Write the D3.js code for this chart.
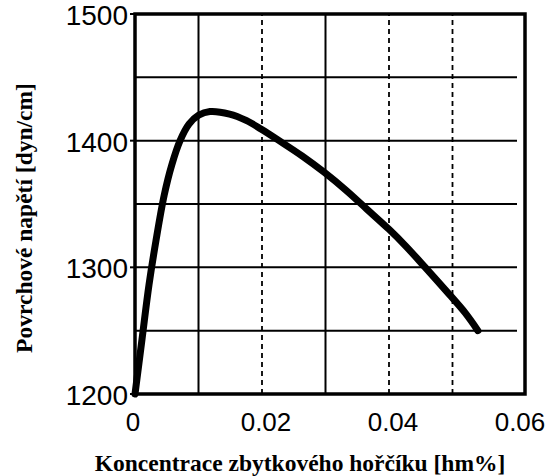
<!DOCTYPE html>
<html>
<head>
  <meta charset="utf-8">
  <title>Povrchové napětí vs. koncentrace hořčíku</title>
  <script src="https://d3js.org/d3.v7.min.js"></script>
  <style>
    body { margin: 0; background: #fff; }
    .tick-label { font-family: "Liberation Sans", Arial, sans-serif; fill: #000; }
    .title { font-family: "Liberation Serif", "Times New Roman", serif; font-weight: bold; fill: #000; }
  </style>
</head>
<body>
  <svg id="chart"></svg>
  <script>
    // data
    const conc = [0, 0.0011, 0.0022, 0.0033, 0.0046, 0.0058, 0.0071, 0.0085, 0.0100,
                  0.0118, 0.0149, 0.0175, 0.0199, 0.0227, 0.0263, 0.0298, 0.0332, 0.0365,
                  0.04, 0.0426, 0.0457, 0.0489, 0.052, 0.054];
    const tension = [1200, 1243, 1286, 1321, 1357, 1381, 1400, 1413, 1420,
                     1423, 1421, 1416, 1409, 1400, 1388, 1375, 1361, 1346,
                     1330, 1317, 1300, 1282, 1264, 1250];

    const xTicks = [0, 0.02, 0.04, 0.06];
    const xTickLabels = ["0", "0.02", "0.04", "0.06"];
    const yTicks = [1200, 1300, 1400, 1500];
    const xGrid = [0.01, 0.02, 0.03, 0.04, 0.05];
    const xGridDotted = [0.02, 0.04, 0.05];
    const yGrid = [1250, 1300, 1350, 1400, 1450];

    const width = 553, height = 476;
    const svg = d3.select("#chart").attr("width", width).attr("height", height);

    const x = d3.scaleLinear().domain([0, 0.06]).range([135, 516]);
    const y = d3.scaleLinear().domain([1200, 1500]).range([394, 14]);
    const xEnd = 525;  // right frame sits a bit past 0.06

    // grid
    svg.selectAll(".hgrid").data(yGrid).enter().append("line")
      .attr("x1", x(0)).attr("x2", 517)
      .attr("y1", d => y(d)).attr("y2", d => y(d))
      .attr("stroke", "#000").attr("stroke-width", 2);

    svg.selectAll(".vgrid").data(xGrid).enter().append("line")
      .attr("x1", d => x(d)).attr("x2", d => x(d))
      .attr("y1", y(1200)).attr("y2", y(1500))
      .attr("stroke", "#000")
      .attr("stroke-width", d => xGridDotted.includes(d) ? 1.8 : 2)
      .attr("stroke-dasharray", d => xGridDotted.includes(d) ? "5,4" : null);

    // frame
    svg.append("rect")
      .attr("x", x(0)).attr("y", y(1500))
      .attr("width", xEnd - x(0)).attr("height", y(1200) - y(1500))
      .attr("fill", "none").attr("stroke", "#000").attr("stroke-width", 3.5);

    // tick stubs
    svg.selectAll(".ytick").data(yTicks).enter().append("line")
      .attr("x1", x(0) - 5).attr("x2", x(0))
      .attr("y1", d => y(d)).attr("y2", d => y(d))
      .attr("stroke", "#000").attr("stroke-width", 2);

    // tick labels
    svg.selectAll(".ylab").data(yTicks).enter().append("text")
      .attr("class", "tick-label")
      .attr("x", x(0) - 7).attr("y", d => y(d) + 11)
      .attr("text-anchor", "end")
      .attr("font-size", 28)
      .text(d => d);

    svg.selectAll(".xlab").data(xTicks).enter().append("text")
      .attr("class", "tick-label")
      .attr("x", (d, i) => x(d) + (i === 0 ? -2 : 4)).attr("y", 431)
      .attr("text-anchor", "middle")
      .attr("font-size", 26)
      .text((d, i) => xTickLabels[i]);

    // curve
    const line = d3.line()
      .x((d, i) => x(conc[i]))
      .y(d => y(d))
      .curve(d3.curveCatmullRom.alpha(0.5));

    svg.append("path")
      .datum(tension)
      .attr("d", line)
      .attr("fill", "none")
      .attr("stroke", "#000")
      .attr("stroke-width", 7)
      .attr("stroke-linecap", "round");

    // axis titles
    svg.append("text")
      .attr("class", "title")
      .attr("x", 300).attr("y", 471)
      .attr("text-anchor", "middle")
      .attr("font-size", 23.5)
      .text("Koncentrace zbytkového hořčíku [hm%]");

    svg.append("text")
      .attr("class", "title")
      .attr("transform", "translate(32,218) rotate(-90)")
      .attr("text-anchor", "middle")
      .attr("font-size", 23.5)
      .text("Povrchové napětí [dyn/cm]");
  </script>
</body>
</html>
